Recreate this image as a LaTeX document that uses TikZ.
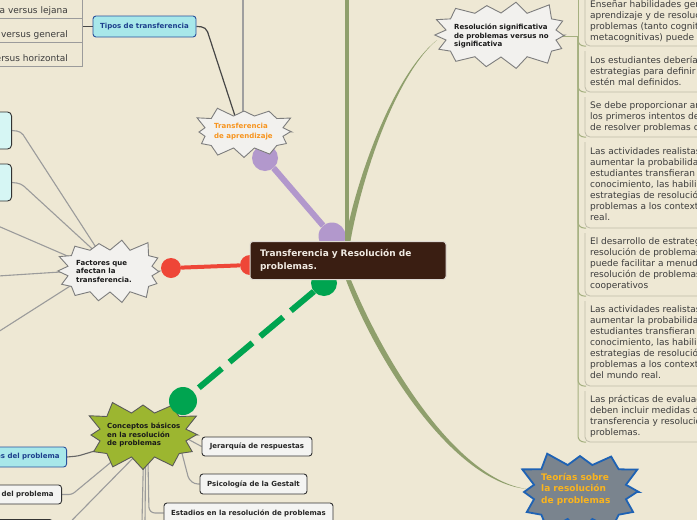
\documentclass[tikz,border=0pt]{standalone}
\usepackage{fontspec}
\setmainfont{DejaVu Sans}
\usetikzlibrary{calc}
\definecolor{bgc}{RGB}{238,232,212}
\definecolor{oliv}{RGB}{143,159,108}
\definecolor{olivt}{RGB}{165,176,128}
\definecolor{itemb}{RGB}{190,187,168}
\definecolor{purp}{RGB}{178,152,204}
\definecolor{redc}{RGB}{238,70,55}
\definecolor{grn}{RGB}{0,164,80}
\definecolor{ctrfill}{RGB}{58,30,18}
\definecolor{ctrtext}{RGB}{240,234,226}
\definecolor{burstf}{RGB}{242,241,238}
\definecolor{burstd}{RGB}{125,125,125}
\definecolor{cgreen}{RGB}{156,182,48}
\definecolor{slate}{RGB}{122,132,142}
\definecolor{tblue}{RGB}{30,98,180}
\definecolor{gold}{RGB}{250,180,30}
\definecolor{orng}{RGB}{247,148,30}
\definecolor{cyanf}{RGB}{168,232,234}
\definecolor{cyanl}{RGB}{214,246,244}
\definecolor{bblue}{RGB}{40,80,155}
\definecolor{tblu}{RGB}{28,62,140}
\definecolor{gline}{RGB}{155,155,155}
\definecolor{txt}{RGB}{60,60,60}
\definecolor{boxf}{RGB}{244,244,242}
\pgfdeclarelayer{bg}
\pgfdeclarelayer{lines}
\pgfsetlayers{bg,lines,main}
% jagged "burst" outline: cx, cy, a, b, depth, vertices, style
\newcommand{\burst}[7]{%
  \path[#7] plot[samples at={0,...,#6}, variable=\k]
   ({#1+(#3-#5*mod(\k,2)+(1-mod(\k,2))*2.5*sin(\k*137))*cos(\k*360/#6)*pow(pow(abs(cos(\k*360/#6)),4)+pow(abs(sin(\k*360/#6)),4),-0.25)},
    {#2+(#4-#5*mod(\k,2)+(1-mod(\k,2))*2.5*sin(\k*137))*sin(\k*360/#6)*pow(pow(abs(cos(\k*360/#6)),4)+pow(abs(sin(\k*360/#6)),4),-0.25)}) -- cycle;}
% right-hand text item: name, text top, bottom line, border top, text
\newcommand{\itm}[5]{%
  \node[itemtxt] (#1) at (590,#2) {#5};
  \coordinate (#1b) at (586,#3);
  \draw[itb] (699,#3) -- (585,#3) -- (585,#4);}
\tikzset{
 lbl/.style={font=\fontsize{7}{8.5}\selectfont\bfseries, align=left, inner sep=0pt, anchor=west, text=black!90},
 itemtxt/.style={font=\fontsize{9}{11}\selectfont, text=txt, align=left, anchor=north west, inner sep=0pt},
 listtxt/.style={font=\fontsize{9}{11}\selectfont, text=txt, anchor=base east, inner sep=0pt},
 wbox/.style={draw=black!80, fill=boxf, line width=0.9pt, rounded corners=3pt, font=\fontsize{7}{8.5}\selectfont\bfseries, text=black!85, inner sep=0pt},
 cbox/.style={wbox, fill=cyanf, draw=bblue, text=tblu},
 gl/.style={draw=gline, line width=1.1pt},
 dk/.style={draw=black!72, line width=1.2pt},
 olthin/.style={draw=olivt, line width=1pt},
 itb/.style={draw=itemb, line width=0.8pt, rounded corners=5pt},
 dot/.style={circle, inner sep=0pt},
 plainburst/.style={fill=burstf, draw=burstd, line width=0.9pt},
}
\begin{document}
\begin{tikzpicture}[x=1pt,y=-1pt]
\useasboundingbox (0,0) rectangle (697,520);
\begin{pgfonlayer}{bg}
\fill[bgc] (0,0) rectangle (697,520);
\end{pgfonlayer}

% ---------- centre ----------
\node[draw=ctrtext!85!gray, fill=ctrfill, rounded corners=3pt, line width=1pt,
      minimum width=196pt, minimum height=38pt, text width=176pt, inner xsep=10pt,
      align=left, font=\fontsize{9}{12.5}\selectfont\bfseries, text=ctrtext] (ctr) at (348,260.5)
      {Transferencia y Resolución de\\problemas.};

% ---------- bursts ----------
\burst{244}{132}{46}{23}{7}{24}{plainburst}
\node[lbl, font=\fontsize{7}{10}\selectfont\bfseries, text=orng] (trans) at (214,132) {Transferencia\\de aprendizaje};

\burst{110}{271}{50}{29}{8}{28}{plainburst}
\node[lbl] (factores) at (76,271) {Factores que\\afectan la\\transferencia.};

\burst{143}{435}{53}{32}{10}{24}{fill=cgreen, draw=black!65, line width=0.9pt}
\node[lbl] (conceptos) at (107,435) {Conceptos básicos\\en la resolución\\de problemas};
\node[dot, fill=grn, minimum size=28pt] (g2) at (183,401) {};

\burst{501}{35}{64}{31}{9}{28}{plainburst}
\node[lbl] (resol) at (454,36) {Resolución significativa\\de problemas versus no\\significativa};

\burst{580}{492}{57}{38}{11}{24}{fill=slate, draw=tblue, line width=1.8pt}
\node[lbl, font=\fontsize{9}{11.5}\selectfont\bfseries, text=gold] (teorias) at (541,489) {Teorías sobre\\la resolución\\de problemas};

% ---------- boxes ----------
\node[cbox, minimum width=103pt, minimum height=21pt] (tipos) at (144.5,26.5) {Tipos de transferencia};
\node[wbox, minimum width=110pt, minimum height=19pt] (jer) at (257,446.5) {Jerarquía de respuestas};
\node[wbox, minimum width=107pt, minimum height=20pt] (psi) at (253.5,484) {Psicología de la Gestalt};
\node[wbox, minimum width=169pt, minimum height=20pt] (est) at (248.5,513) {Estadios en la resolución de problemas};
\node[cbox, minimum height=20pt, inner xsep=7pt, anchor=east] (rep) at (67,457) {Representaciones del problema};
\node[wbox, minimum height=19pt, inner xsep=8pt, anchor=east] (idp) at (62,494.5) {Identificación del problema};
\node[wbox, minimum width=110pt, minimum height=20pt, anchor=north east] (bb) at (53,519) {};
\node[wbox, fill=cyanl, minimum width=60pt, minimum height=37pt, rounded corners=4pt, anchor=east] (fa) at (12,130.5) {};
\node[wbox, fill=cyanl, minimum width=60pt, minimum height=37pt, rounded corners=4pt, anchor=east] (fb) at (12,182.5) {};

% ---------- left list ----------
\node[listtxt] (la) at (68,13) {Cercana versus lejana};
\node[listtxt] (lb) at (68,37) {Específica versus general};
\node[listtxt] (lc) at (68,61) {Vertical versus horizontal};

% ---------- right items ----------
\itm{i1}{0.5}{46}{-5}{Enseñar habilidades generales de\\aprendizaje y de resolución de\\problemas (tanto cognitivas como\\metacognitivas) puede ser útil.}
\itm{i2}{56.5}{92}{51}{Los estudiantes deberían aprender\\estrategias para definir problemas que\\estén mal definidos.}
\itm{i3}{101.5}{137}{97}{Se debe proporcionar andamiaje en\\los primeros intentos de los estudiantes\\de resolver problemas complejos.}
\itm{i4}{147.5}{228}{142}{Las actividades realistas pueden\\aumentar la probabilidad de que los\\estudiantes transfieran su\\conocimiento, las habilidades y\\estrategias de resolución de\\problemas a los contextos del mundo\\real.}
\itm{i5}{237.5}{296}{233}{El desarrollo de estrategias de\\resolución de problemas por parte de\\puede facilitar a menudo la\\resolución de problemas en grupos\\cooperativos}
\itm{i6}{305.5}{386}{301}{Las actividades realistas pueden\\aumentar la probabilidad de que los\\estudiantes transfieran su\\conocimiento, las habilidades y\\estrategias de resolución de\\problemas a los contextos\\del mundo real.}
\itm{i7}{395.5}{442}{391}{Las prácticas de evaluación\\deben incluir medidas de\\transferencia y resolución de\\problemas.}

% ---------- connectors ----------
\begin{pgfonlayer}{lines}
\node[dot, fill=purp, minimum size=27pt] (p1) at (332,236) {};
\node[dot, fill=purp, minimum size=26pt] (p2) at (265,158) {};
\draw[purp, line width=6pt] (p1) -- (p2);
\node[dot, fill=redc, minimum size=20pt] (r1) at (250,265) {};
\node[dot, fill=redc, minimum size=20pt] (r2) at (171,268) {};
\draw[redc, line width=4pt] (r1) -- (r2);
\node[dot, fill=grn, minimum size=26pt] (g1) at (324,283) {};
\draw[grn, line width=6pt, dash pattern=on 30pt off 10pt] (g1) -- (g2);

\coordinate (tv1) at (347,-2);
\draw[oliv, line width=4.5pt] (ctr.north -| tv1) -- (tv1);
\fill[oliv] ($(ctr.north)+(-3,0)$) .. controls (356,180) and (393,75) .. ($(resol.west)+(-17,4)$)
   .. controls (394,77) and (361,181) .. ($(ctr.north)+(2.5,0)$) -- cycle;
\fill[oliv] ($(ctr.south)+(-2,0)$) .. controls (377,362) and (453,482) .. ($(teorias.west)+(-14,0)$)
   .. controls (455,479) and (383,358) .. ($(ctr.south)+(3,0)$) -- cycle;

% transfer branch
\draw[dk, rounded corners=5pt] (tipos.east) -- (206,27) -- ($(trans.north)+(-6,0)$);
\coordinate (tv2) at (243,-2);
\draw[gl, line width=2pt, draw=gray!75] (tv2) -- (tv2 |- trans.north);
\coordinate (lj) at (82,26.5);
\draw[dk] (tipos.west) -- (lj);
\draw[gl, line width=0.8pt] (82,-2) -- (82,66) -- (-2,66) (82,42) -- (-2,42) (82,18) -- (-2,18);

% factores branch
\coordinate (fc) at (-2,226);
\coordinate (fd) at (-2,276);
\coordinate (fe) at (-2,332);
\draw[gl, rounded corners=4pt] (fa.east) -- ++(9,1) -- (factores.north);
\draw[gl, rounded corners=4pt] (fb.east) -- ++(9,1) -- (factores.north);
\draw[gl] (fc) -- (factores.north west);
\draw[gl] (fd) -- (factores.west);
\draw[gl] (fe) -- (factores.south west);

% conceptos branch
\draw[gl, draw=black!60, rounded corners=3pt] (rep.east) -- ++(11,-1) -- (conceptos.south west);
\draw[gl, rounded corners=3pt] (idp.east) -- ++(10,0) -- ($(conceptos.south west)!0.6!(conceptos.south)$);
\draw[gl, rounded corners=3pt] (bb.east) -- ++(10,0) -- (conceptos.south);
\coordinate (cb1) at (142,522);
\coordinate (cb2) at (145,522);
\draw[gl] (conceptos.south) -- (cb1);
\draw[gl] ($(conceptos.south)+(2,0)$) -- (cb2);
\draw[gl, rounded corners=6pt] ($(conceptos.south)+(4,0)$) -- (149,513) -- (est.west);
\draw[gl] (conceptos.east) -- (jer.west);
\draw[gl, rounded corners=8pt] (conceptos.south east) -- (190,484) -- (psi.west);

% resolucion branch
\coordinate (sp) at (578,36);
\coordinate (spt) at (578,-2);
\draw[olthin] (resol.east) -- (sp);
\draw[olthin] (sp) -- (spt);
\foreach \b in {i1b,i2b,i3b,i4b,i5b,i6b,i7b}
  \draw[olthin, rounded corners=6pt] (sp) |- (\b);
\end{pgfonlayer}
\end{tikzpicture}
\end{document}
